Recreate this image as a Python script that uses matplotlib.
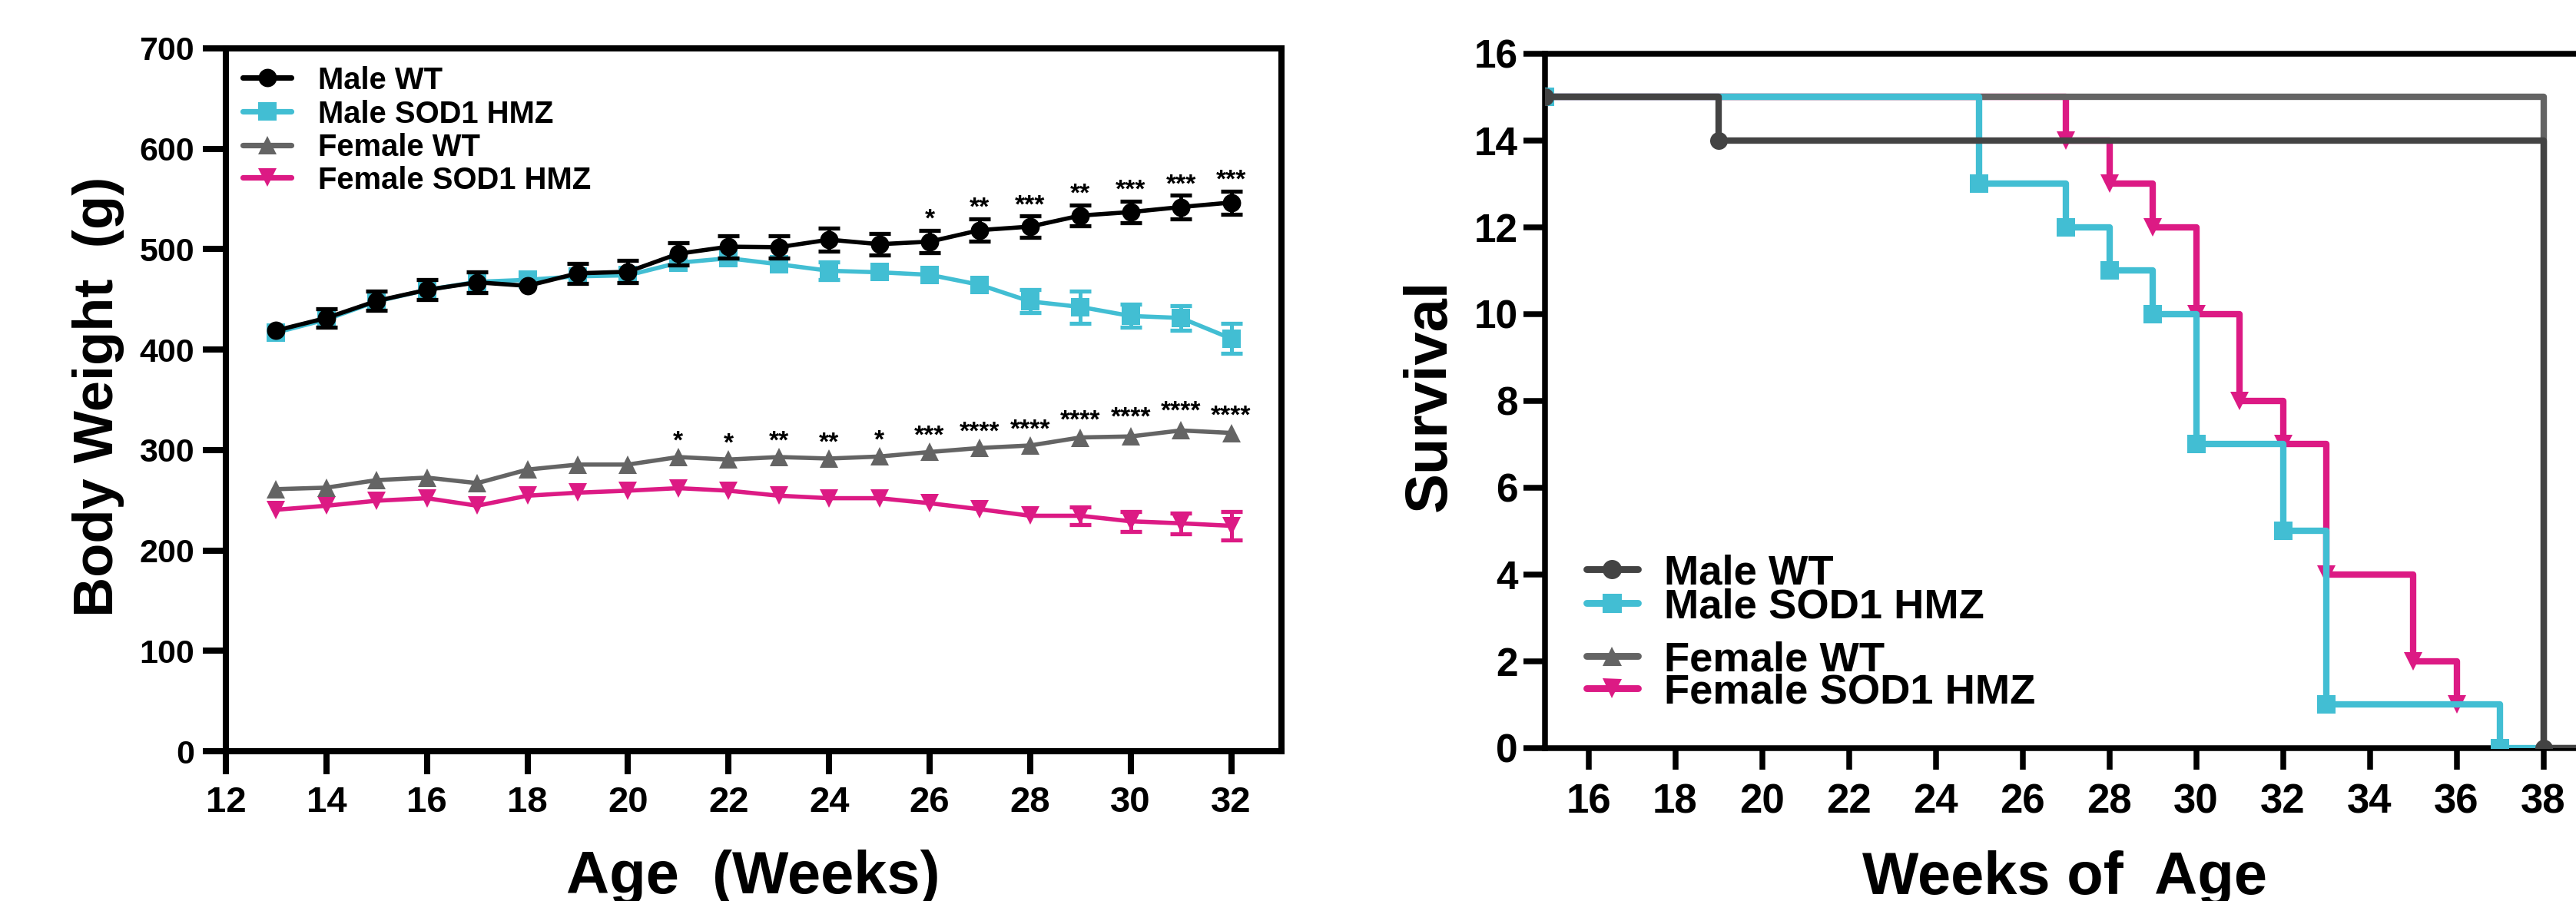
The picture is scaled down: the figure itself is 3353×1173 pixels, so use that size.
import matplotlib
matplotlib.use("Agg")
import matplotlib.pyplot as plt
from matplotlib.lines import Line2D

plt.rcParams['font.family'] = ['Liberation Sans', 'DejaVu Sans']
plt.rcParams['font.weight'] = 'bold'

W, H, DPI = 3353, 1173, 200

# ---------------- body weight (mean +/- SEM) ----------------
weeks = list(range(13, 33))
male_wt = [419, 431.5, 448.5, 459.5, 467, 463.5, 476, 477.5, 495.5, 502.5,
           502, 509.5, 505, 507.5, 519, 522.5, 533.5, 537, 542, 546.5]
male_wt_sem = [4, 9.5, 9.5, 10, 10, 4, 10, 11, 11, 11,
               11, 11.5, 11, 11, 11, 10.5, 10.5, 11, 11.5, 11.5]
male_sod = [417, 430, 448, 459.5, 467.5, 469.5, 473, 474, 486.5, 491,
            485, 478.5, 477, 474.5, 464.5, 448, 442.5, 433.5, 431.5, 411]
male_sod_sem = [3, 5, 5, 5, 5, 4, 6, 6, 5, 4,
                6, 9, 5, 5, 4, 11.5, 16, 11.5, 12, 15]
female_wt = [261, 262.5, 270, 272.5, 267, 280.5, 285.5, 285.5, 293, 290.5,
             293, 291.5, 293.5, 298, 302, 304.5, 312.5, 313.5, 319.5, 317]
female_wt_sem = [4, 4, 4, 4, 4, 4, 4, 4, 4, 4,
                 4, 4, 4, 4, 4, 4, 5, 7, 7, 5]
female_sod = [240.5, 244.5, 249.5, 252, 244.5, 254.5, 257.5, 259.5, 262, 259.5,
              254.5, 252, 252, 247, 241, 234.5, 234.5, 229, 227, 224.5]
female_sod_sem = [4, 4, 4, 4, 4, 4, 4, 4, 4, 4,
                  4, 4, 4, 4, 4, 4, 9, 10, 10.5, 14]

male_star_weeks = [26, 27, 28, 29, 30, 31, 32]
male_stars = ['*', '**', '***', '**', '***', '***', '***']
female_star_weeks = list(range(21, 33))
female_stars = ['*', '*', '**', '**', '*', '***', '****', '****',
                '****', '****', '****', '****']

# ---------------- survival (number alive) ----------------
surv_male_wt_t = [15, 19, 38, 39]
surv_male_wt_n = [15, 14, 0, 0]
surv_male_sod_t = [15, 25, 27, 28, 29, 30, 32, 33, 37, 38]
surv_male_sod_n = [15, 13, 12, 11, 10, 7, 5, 1, 0, 0]
surv_female_wt_t = [15, 38, 39]
surv_female_wt_n = [15, 0, 0]
surv_female_sod_t = [15, 27, 28, 29, 30, 31, 32, 33, 35, 36]
surv_female_sod_n = [15, 14, 13, 12, 10, 8, 7, 4, 2, 1]

labels = ['Male WT', 'Male SOD1 HMZ', 'Female WT', 'Female SOD1 HMZ']

BLACK = '#000000'
CYAN = '#42BED3'
GRAY = '#646464'
MAGENTA = '#DC1A84'
DARK = '#434343'

# error bars shorter than the symbol are hidden behind it (in grams)
HIDE_SEM_BELOW = 8.5


def px(x, y):
    """pixel position (from top-left) -> figure fraction"""
    return x / W, 1 - y / H


def box(l, t, r, b):
    return [l / W, 1 - b / H, (r - l) / W, (b - t) / H]


fig = plt.figure(figsize=(W / DPI, H / DPI), dpi=DPI)

# =============== left panel: body weight ===============
ax1 = fig.add_axes(box(294, 63, 1668, 978))
ms = 8.6
series = [
    (female_sod, female_sod_sem, MAGENTA, 'v', 3),
    (female_wt, female_wt_sem, GRAY, '^', 4),
    (male_sod, male_sod_sem, CYAN, 's', 5),
    (male_wt, male_wt_sem, BLACK, 'o', 6),
]
for vals, sem, col, mk, z in series:
    keep = [i for i, s in enumerate(sem) if s >= HIDE_SEM_BELOW]
    if keep:
        ax1.errorbar([weeks[i] for i in keep], [vals[i] for i in keep],
                     yerr=[sem[i] for i in keep], fmt='none', ecolor=col,
                     elinewidth=1.8, capsize=4.9, capthick=1.9, zorder=z)
    ax1.plot(weeks, vals, '-', marker=mk, color=col, lw=2.0, ms=ms,
             mew=0, zorder=z + 0.5)

for w, s in zip(male_star_weeks, male_stars):
    i = weeks.index(w)
    ax1.text(w, male_wt[i] + male_wt_sem[i] + 4, s, ha='center',
             va='baseline', fontsize=12, fontweight='bold', zorder=8)
for w, s in zip(female_star_weeks, female_stars):
    i = weeks.index(w)
    ax1.text(w, female_wt[i] + female_wt_sem[i] + 5, s, ha='center',
             va='baseline', fontsize=12, fontweight='bold', zorder=8)

ax1.set_xlim(12, 33)
ax1.set_ylim(0, 700)
ax1.set_xticks(range(12, 33, 2))
ax1.set_yticks(range(0, 701, 100))
ax1.tick_params(axis='both', direction='out', length=10.8, width=2.9,
                color=BLACK)
ax1.tick_params(axis='x', labelsize=17, pad=5.5)
ax1.tick_params(axis='y', labelsize=15.5, pad=4)
for sp in ax1.spines.values():
    sp.set_linewidth(2.9)
    sp.set_capstyle('projecting')

fig.text(*px(128, 516), 'Body Weight  (g)', rotation=90, ha='center',
         va='center', fontsize=26, fontweight='bold')
fig.text(*px(980, 1163), 'Age  (Weeks)', ha='center', va='baseline',
         fontsize=28, fontweight='bold')

# legend (left panel)
left_rows = [101.4, 145.4, 188.7, 231.5]
left_style = [(BLACK, 'o'), (CYAN, 's'), (GRAY, '^'), (MAGENTA, 'v')]
em = 14.4 / 72 * DPI
for yrow, (col, mk), lab in zip(left_rows, left_style, labels):
    x0, y0 = px(316, yrow)
    x1, _ = px(379, yrow)
    xm, _ = px(347.5, yrow)
    fig.add_artist(Line2D([x0, x1], [y0, y0], transform=fig.transFigure,
                          color=col, lw=2.6, solid_capstyle='round'))
    fig.add_artist(Line2D([xm], [y0], transform=fig.transFigure,
                          marker=mk, ms=ms, color=col, mew=0))
    fig.text(*px(414, yrow + 0.358 * em), lab, ha='left', va='baseline',
             fontsize=14.4, fontweight='bold')

# =============== right panel: survival ===============
ax2 = fig.add_axes(box(2011, 69.7, 3367, 973.5))
surv = [
    (surv_female_sod_t, surv_female_sod_n, MAGENTA, 'v', 3, None),
    (surv_female_wt_t, surv_female_wt_n, GRAY, '^', 4, 2),
    (surv_male_sod_t, surv_male_sod_n, CYAN, 's', 5, 9),
    (surv_male_wt_t, surv_male_wt_n, DARK, 'o', 6, 3),
]
for t, n, col, mk, z, nmark in surv:
    every = list(range(len(t))) if nmark is None else list(range(nmark))
    ax2.plot(t, n, drawstyle='steps-post', color=col, lw=3.0, marker=mk,
             ms=8.3, mew=0, markevery=every, zorder=z)

ax2.set_xlim(15, 39)
ax2.set_ylim(0, 16)
ax2.set_xticks(range(16, 39, 2))
ax2.set_yticks(range(0, 17, 2))
ax2.tick_params(axis='both', direction='out', length=10.2, width=2.7,
                color=BLACK)
ax2.tick_params(axis='x', labelsize=19, pad=6.3)
ax2.tick_params(axis='y', labelsize=18.5, pad=2.5)
for sp in ax2.spines.values():
    sp.set_linewidth(2.7)
    sp.set_capstyle('projecting')

fig.text(*px(1861, 515), 'Survival', rotation=90, ha='center',
         va='center', fontsize=28, fontweight='bold')
fig.text(*px(2688, 1164), 'Weeks of  Age', ha='center', va='baseline',
         fontsize=28, fontweight='bold')

# legend (right panel), male and female groups
right_rows = [740.7, 784.6, 854, 896]
right_style = [(DARK, 'o'), (CYAN, 's'), (GRAY, '^'), (MAGENTA, 'v')]
em2 = 19.6 / 72 * DPI
for yrow, (col, mk), lab in zip(right_rows, right_style, labels):
    x0, y0 = px(2064.6, yrow)
    x1, _ = px(2131.7, yrow)
    xm, _ = px(2098, yrow)
    fig.add_artist(Line2D([x0, x1], [y0, y0], transform=fig.transFigure,
                          color=col, lw=3.2, solid_capstyle='round'))
    fig.add_artist(Line2D([xm], [y0], transform=fig.transFigure,
                          marker=mk, ms=9.0, color=col, mew=0))
    fig.text(*px(2166, yrow + 0.358 * em2), lab, ha='left', va='baseline',
             fontsize=19.6, fontweight='bold')

fig.savefig('out.png', dpi=DPI)
